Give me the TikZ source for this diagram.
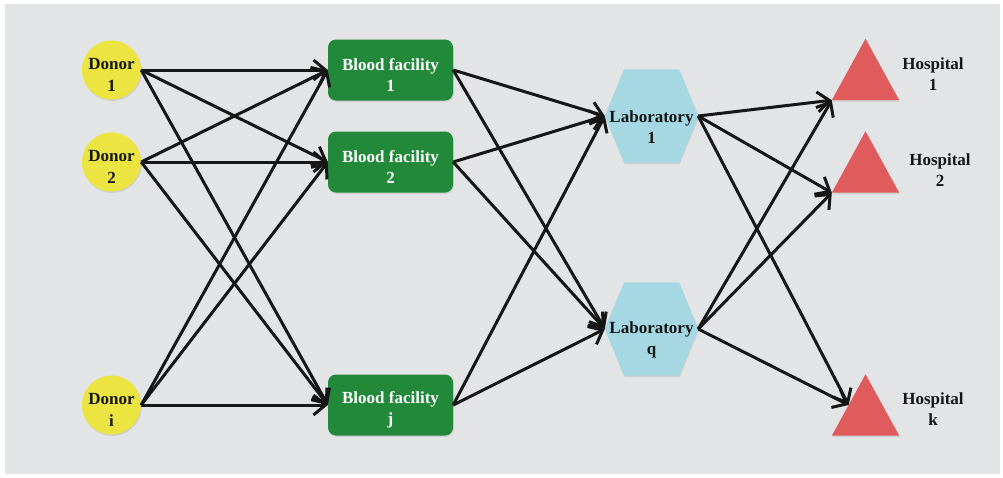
\documentclass[tikz,border=0pt]{standalone}
\usepackage{fontspec}
\setmainfont{Liberation Serif}
\usetikzlibrary{arrows.meta,shadows,calc}
\definecolor{bggray}{RGB}{227,228,230}
\definecolor{donorY}{RGB}{236,228,64}
\definecolor{facG}{RGB}{34,137,59}
\definecolor{labB}{RGB}{166,216,227}
\definecolor{hospR}{RGB}{224,91,91}
\definecolor{textdark}{RGB}{22,22,22}
\definecolor{arrowc}{RGB}{22,22,22}
\begin{document}
\begin{tikzpicture}[x=1pt,y=-1pt,
  lbl/.style={font=\fontsize{17}{21.5}\selectfont\bfseries, align=center, text=textdark, inner sep=0pt},
  shad/.style={drop shadow={opacity=0.22, shadow xshift=0.8pt, shadow yshift=-1.4pt}},
  donor/.style={circle, fill=donorY, minimum size=59pt, inner sep=0pt, shad},
  facility/.style={rectangle, rounded corners=8pt, fill=facG, minimum width=125pt, minimum height=61pt, inner sep=0pt, shad},
  holder/.style={rectangle, inner sep=0pt, minimum width=#1, minimum height=61pt},
  labbox/.style={rectangle, inner sep=0pt, minimum width=93pt, minimum height=93pt},
  link/.style={line width=3pt, draw=arrowc, -{Straight Barb[length=12pt,width=20pt]}}
]
\useasboundingbox (0,0) rectangle (1003,477);
\fill[white] (0,0) rectangle (1003,477);
\fill[bggray] (5,4) rectangle (1000,474);

% donors
\node[donor] (d1) at (111.5,70) {};
\node[donor] (d2) at (111.5,162) {};
\node[donor] (di) at (111.5,405) {};
\node[lbl] (d1t) at ($(d1)+(0,5)$) {Donor\\1};
\node[lbl] (d2t) at ($(d2)+(0,5)$) {Donor\\2};
\node[lbl] (dit) at ($(di)+(0,5)$) {Donor\\i};

% blood facilities
\node[facility] (b1) at (390.5,70) {};
\node[facility] (b2) at (390.5,162) {};
\node[facility] (bj) at (390.5,405) {};
\node[lbl, text=white] (b1t) at ($(b1)+(0,5)$) {Blood facility\\1};
\node[lbl, text=white] (b2t) at ($(b2)+(0,5)$) {Blood facility\\2};
\node[lbl, text=white] (bjt) at ($(bj)+(0,5)$) {Blood facility\\j};

% laboratories
\node[labbox] (l1) at (651.5,116) {};
\node[labbox] (lq) at (651.5,329) {};
\foreach \l in {l1,lq}{
  \fill[labB, shad] (\l.west) -- ($(\l.north)+(-27.5,0)$) -- ($(\l.north)+(27.5,0)$) -- (\l.east)
     -- ($(\l.south)+(27.5,0)$) -- ($(\l.south)+(-27.5,0)$) -- cycle;
}
\node[lbl] (l1t) at (651.5,127) {Laboratory\\1};
\node[lbl] (lqt) at (651.5,340) {Laboratory\\q};

% hospitals
\node[holder=67pt] (h1) at (865.5,69.5) {};
\node[holder=67pt] (h2) at (865.5,162) {};
\node[holder=67pt] (hk) at (865.5,405) {};
\foreach \h in {h1,h2,hk}{
  \fill[hospR, shad] (\h.north) -- (\h.south east) -- (\h.south west) -- cycle;
}
\coordinate (hkin) at ($(hk.south west)!0.5!(hk.north)$);
\node[lbl] (h1t) at (933,74) {Hospital\\1};
\node[lbl] (h2t) at (940,170) {Hospital\\2};
\node[lbl] (hkt) at (933,409) {Hospital\\k};

% donor -> facility
\foreach \d in {d1,d2,di}{
  \foreach \b in {b1,b2,bj}{
    \draw[link] (\d.east) -- (\b.west);
  }
}
% facility -> lab
\foreach \b in {b1,b2,bj}{
  \foreach \l in {l1,lq}{
    \draw[link] (\b.east) -- (\l.west);
  }
}
% lab -> hospital
\foreach \l in {l1,lq}{
  \draw[link] (\l.east) -- (h1.south west);
  \draw[link] (\l.east) -- (h2.south west);
  \draw[link] (\l.east) -- (hkin);
}
\end{tikzpicture}
\end{document}
